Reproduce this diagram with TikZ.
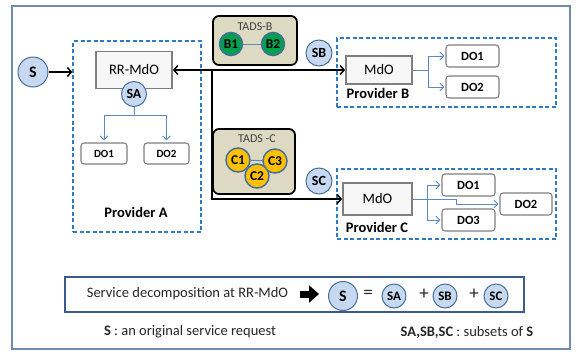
\documentclass[tikz,border=0pt]{standalone}
\usepackage{fontspec}
\setmainfont{Carlito}
\usetikzlibrary{arrows.meta}
\definecolor{framec}{HTML}{6F8CAE}
\definecolor{dashc}{HTML}{2E7BC4}
\definecolor{circf}{HTML}{C6D9F1}
\definecolor{circd}{HTML}{4A6E9C}
\definecolor{boxd}{HTML}{7F7F7F}
\definecolor{boxf}{HTML}{F7F7F7}
\definecolor{linkc}{HTML}{5A8AC6}
\definecolor{tadsf}{HTML}{DDD9C3}
\definecolor{greenf}{HTML}{00A04F}
\definecolor{goldf}{HTML}{FFC000}
\definecolor{botd}{HTML}{3A5C8C}
\definecolor{txtg}{HTML}{404040}
\tikzset{
 dashbox/.style={draw=dashc, line width=1.3pt, dash pattern=on 4pt off 2.5pt, inner sep=0pt},
 scirc/.style={circle, draw=circd, fill=circf, line width=1pt, inner sep=0pt, minimum size=#1, font=\fontsize{14}{14}\selectfont\bfseries},
 mdo/.style={draw=boxd, fill=boxf, line width=1.8pt, inner sep=0pt, font=\fontsize{14.5}{15}\selectfont},
 dobox/.style={draw=boxd, fill=white, rounded corners=3pt, line width=1.1pt, inner sep=0pt, minimum width=53pt, minimum height=22pt, font=\fontsize{12.5}{13}\selectfont\bfseries},
 tads/.style={draw=black, fill=tadsf, rounded corners=6pt, line width=1.8pt, inner sep=0pt},
 tlabel/.style={inner sep=0pt, text=txtg, font=\fontsize{12}{12}\selectfont},
 bnode/.style={circle, draw=circd, fill=greenf, line width=1.5pt, inner sep=0pt, minimum size=23pt, font=\fontsize{13.5}{14}\selectfont\bfseries},
 cnode/.style={circle, draw=circd, fill=goldf, line width=1.5pt, inner sep=0pt, minimum size=24pt, font=\fontsize{13.5}{14}\selectfont\bfseries},
 plabel/.style={inner sep=0pt, font=\fontsize{14.5}{15}\selectfont\bfseries},
 txt/.style={inner sep=0pt, text=black!85, font=\fontsize{14.5}{15}\selectfont},
 optxt/.style={inner sep=0pt, text=black!85, font=\fontsize{19}{19}\selectfont},
 blk/.style={draw=black, line width=1.5pt, -{Straight Barb[length=4pt,width=9pt]}},
 lnkline/.style={draw=linkc, line width=0.9pt},
 lnk/.style={draw=linkc, line width=0.9pt, -{Straight Barb[length=4pt,width=8pt]}},
 tlink/.style={draw=linkc, line width=1pt},
}
\begin{document}
\begin{tikzpicture}[x=1pt,y=-1pt]
\useasboundingbox (0,0) rectangle (576,354);
\node[draw=framec, line width=1.1pt, minimum width=558pt, minimum height=343pt, inner sep=0pt] (frame) at (291,177.5) {};

% Provider A
\node[dashbox, minimum width=128pt, minimum height=191pt] (pa) at (137,136.5) {};
\node[scirc=30pt, font=\fontsize{16}{16}\selectfont\bfseries] (S) at (33,72) {S};
\draw[blk] (S) -- (S -| pa.west);
\node[mdo, minimum width=76pt, minimum height=37pt] (rr) at (134,70) {RR-MdO};
\node[scirc=25pt] (sa) at (134,94) {SA};
\node[dobox, minimum width=46pt, minimum height=21pt, font=\fontsize{11}{11}\selectfont\bfseries] (a1) at (104,153.5) {DO1};
\node[dobox, minimum width=45pt, minimum height=21pt, font=\fontsize{11}{11}\selectfont\bfseries] (a2) at (166.5,153.5) {DO2};
\coordinate (ja) at (134,115);
\draw[lnkline] (sa) -- (ja);
\draw[lnk, shorten >=2pt] (ja) -| (a1.north);
\draw[lnk, shorten >=2pt] (ja) -| (a2.north);
\node[plabel] (pal) at (136,212) {Provider A};

% TADS-B
\node[tads, minimum width=84pt, minimum height=49pt] (tb) at (255,40.5) {};
\node[tlabel] (tbl) at (255,27) {TADS-B};
\node[bnode] (b1) at (231,44) {B1};
\node[bnode] (b2) at (273,44) {B2};
\draw[tlink] (b1) -- (b2);

% TADS-C
\node[tads, minimum width=82pt, minimum height=65pt] (tc) at (254,161.5) {};
\node[tlabel] (tcl) at (257,139) {TADS -C};
\node[cnode] (c1) at (238,160) {C1};
\node[cnode] (c3) at (275,161) {C3};
\draw[tlink] (c1) -- (c3);
\node[cnode] (c2) at (257,176) {C2};
\draw[tlink] (c1) -- (c2);
\draw[tlink] (c2) -- (c3);

% Provider B
\node[dashbox, minimum width=219pt, minimum height=69pt] (pb) at (446.5,72.5) {};
\node[scirc=26pt] (sb) at (319,53) {SB};
\node[mdo, minimum width=66pt, minimum height=28pt] (mb) at (379,70) {MdO};
\node[plabel] (pbl) at (378,93) {Provider B};
\node[dobox] (bo1) at (472.5,56) {DO1};
\node[dobox] (bo2) at (472.5,87) {DO2};
\coordinate (jb) at (428,70);
\draw[lnkline] (mb.east) -- (jb);
\draw[lnk, shorten >=1pt] (jb) |- (bo1.west);
\draw[lnk, shorten >=1pt] (jb) |- (bo2.west);

% Provider C
\node[dashbox, minimum width=219pt, minimum height=70pt] (pc) at (446.5,204) {};
\node[scirc=26pt] (sc) at (319,181) {SC};
\node[mdo, minimum width=69pt, minimum height=32pt] (mc) at (377.5,199) {MdO};
\node[plabel] (pcl) at (377,227) {Provider C};
\node[dobox] (co1) at (468.5,185) {DO1};
\node[dobox] (co3) at (468.5,220) {DO3};
\node[dobox, minimum width=52pt] (co2) at (526,204) {DO2};
\coordinate (jc) at (427,199);
\coordinate (kc) at (456,199);
\draw[lnkline] (mc.east) -- (jc);
\draw[lnk, shorten >=1pt] (jc) |- (co1.west);
\draw[lnk, shorten >=1pt] (jc) |- (co3.west);
\draw[lnk, shorten >=1pt] (mc.east) -- (kc) -- (kc |- co2.west) -- (co2.west);

% main black connectors
\draw[draw=black, line width=1.5pt, {Straight Barb[length=4pt,width=9pt]}-{Straight Barb[length=4pt,width=9pt]}] (rr.east) -- (mb.west);
\coordinate (jv) at (212,70);
\draw[blk] (jv) |- (mc.west);

% bottom
\node[draw=botd, line width=2pt, minimum width=459pt, minimum height=35pt, inner sep=0pt] (bot) at (294.5,294.5) {};
\node[txt] (sd) at (187.5,294) {Service decomposition at RR-MdO};
\node[scirc=29pt, font=\fontsize{16}{16}\selectfont\bfseries] (S2) at (343,296) {S};
\draw[line width=7pt, -{Triangle[length=10pt,width=17pt]}, shorten <=12pt, shorten >=9pt] (sd.east) -- (S2.west |- sd.east);
\node[optxt] (eq) at (368,294) {=};
\node[scirc=24pt, font=\fontsize{13}{13}\selectfont\bfseries] (sa2) at (394,296) {SA};
\node[optxt] (p1) at (424,294) {+};
\node[scirc=24pt, font=\fontsize{13}{13}\selectfont\bfseries] (sb2) at (445,296) {SB};
\node[optxt] (p2) at (474,294) {+};
\node[scirc=24pt, font=\fontsize{13}{13}\selectfont\bfseries] (sc2) at (496,296) {SC};
\node[txt] (n1) at (190,332) {\textbf{S} : an original service request};
\node[txt] (n2) at (467,332) {\textbf{SA,SB,SC} : subsets of \textbf{S}};
\end{tikzpicture}
\end{document}
